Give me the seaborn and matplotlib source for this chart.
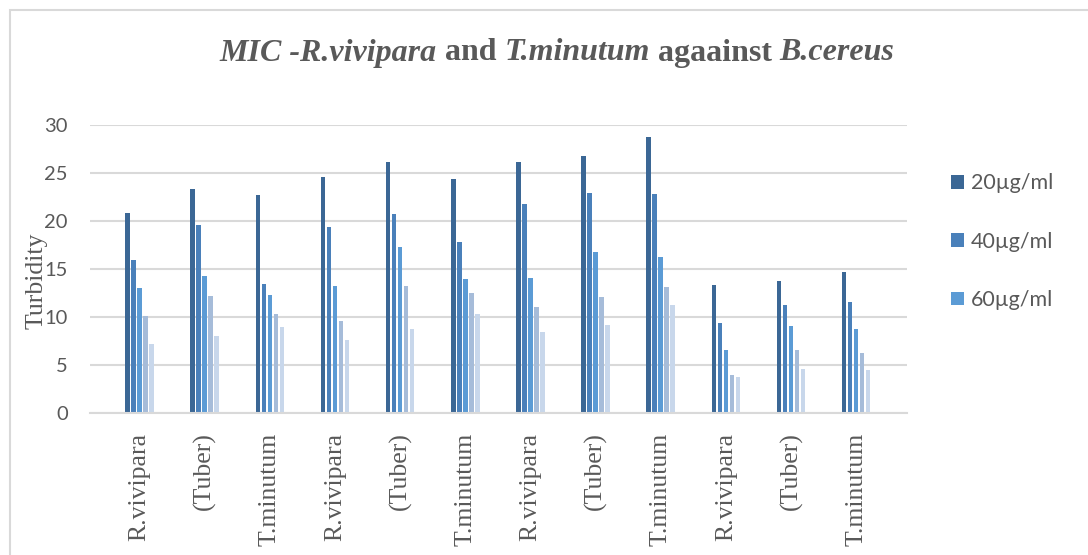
import pandas as pd
import matplotlib
matplotlib.use("Agg")
import matplotlib.pyplot as plt
import seaborn as sns
from matplotlib.patches import Rectangle

# Data
categories = ["R.vivipara", "(Tuber)", "T.minutum"] * 4
concentrations = ["20µg/ml", "40µg/ml", "60µg/ml", "80µg/ml", "100µg/ml"]
c20 = [20.8, 23.3, 22.7, 24.6, 26.1, 24.4, 26.1, 26.8, 28.8, 13.3, 13.8, 14.7]
c40 = [15.9, 19.6, 13.4, 19.4, 20.7, 17.8, 21.8, 22.9, 22.8, 9.4, 11.2, 11.6]
c60 = [13.0, 14.3, 12.3, 13.2, 17.3, 14.0, 14.1, 16.8, 16.3, 6.6, 9.1, 8.8]
c80 = [10.1, 12.2, 10.3, 9.6, 13.2, 12.5, 11.0, 12.1, 13.1, 4.0, 6.6, 6.2]
c100 = [7.2, 8.0, 9.0, 7.6, 8.8, 10.3, 8.4, 9.2, 11.3, 3.8, 4.6, 4.5]
colors = ["#3b6795", "#4a80ba", "#5b9bd5", "#a6bcd9", "#c8d7eb"]

rows = []
for conc, vals in zip(concentrations, [c20, c40, c60, c80, c100]):
    for i, v in enumerate(vals):
        rows.append({"pos": i, "conc": conc, "turbidity": v})
df = pd.DataFrame(rows)

sns.set_style("white")
grey = "#595959"

fig = plt.figure(figsize=(10.88, 5.55), dpi=100)
W, H = 1088, 555
ax = fig.add_axes([90 / W, (H - 413) / H, (907 - 90) / W, (413 - 125) / H])

sns.barplot(data=df, x="pos", y="turbidity", hue="conc", hue_order=concentrations,
            palette=colors, width=0.46, gap=0.25, ax=ax, saturation=1,
            edgecolor="none", errorbar=None)

ax.set_xlim(-0.76, 11.78)
ax.set_ylim(0, 30)
ax.set_yticks(range(0, 31, 5))
ax.yaxis.grid(True, color="#d9d9d9", linewidth=1.5)
ax.set_axisbelow(True)
for s in ["top", "right", "left"]:
    ax.spines[s].set_visible(False)
ax.spines["bottom"].set_color("#d9d9d9")
ax.spines["bottom"].set_linewidth(1.5)
ax.tick_params(axis="both", length=0)

ax.set_xticks(range(12))
ax.set_xticklabels(categories, rotation=90, family="Liberation Serif",
                   fontsize=18.5, color=grey)
ax.tick_params(axis="x", pad=14)
for lab in ax.get_yticklabels():
    lab.set_family("Lato")
    lab.set_fontsize(14.5)
    lab.set_color(grey)
ax.tick_params(axis="y", pad=16)
ax.set_xlabel("")
ax.set_ylabel("")
fig.text(37 / W, 1 - 281 / H, "Turbidity", rotation=90, ha="center", va="center",
         family="Liberation Serif", fontsize=18.5, color=grey)

# legend: only the first three entries are visible in the reference
handles, labels = ax.get_legend_handles_labels()
ax.legend(handles[:3], labels[:3], loc="upper left",
          bbox_to_anchor=(932 / W, 1 - 154 / H), bbox_transform=fig.transFigure,
          frameon=False, handlelength=0.6, handleheight=0.6, handletextpad=0.3,
          labelspacing=1.78, prop={"family": "Lato", "size": 15.5}, labelcolor=grey)

# chart border
fig.patches.append(Rectangle((9.5 / W, -0.1), 1.2, 1 - 9.5 / H + 0.1,
                             transform=fig.transFigure, fill=False,
                             edgecolor="#d9d9d9", linewidth=1.5))

# title with mixed styles
pieces = [("MIC -R.vivipara", "italic"), (" and ", "normal"), ("T.minutum", "italic"),
          (" agaainst ", "normal"), ("B.cereus", "italic")]
texts = []
for txt, style in pieces:
    texts.append(fig.text(0, 1 - 53 / H, txt, family="Liberation Serif", style=style,
                          weight="bold", fontsize=23, color=grey, va="center"))
fig.canvas.draw()
r = fig.canvas.get_renderer()
widths = [t.get_window_extent(r).width for t in texts]
x = (557 - sum(widths) / 2) / W
for t, w in zip(texts, widths):
    t.set_x(x)
    x += w / W

fig.savefig("out.png", dpi=100)
